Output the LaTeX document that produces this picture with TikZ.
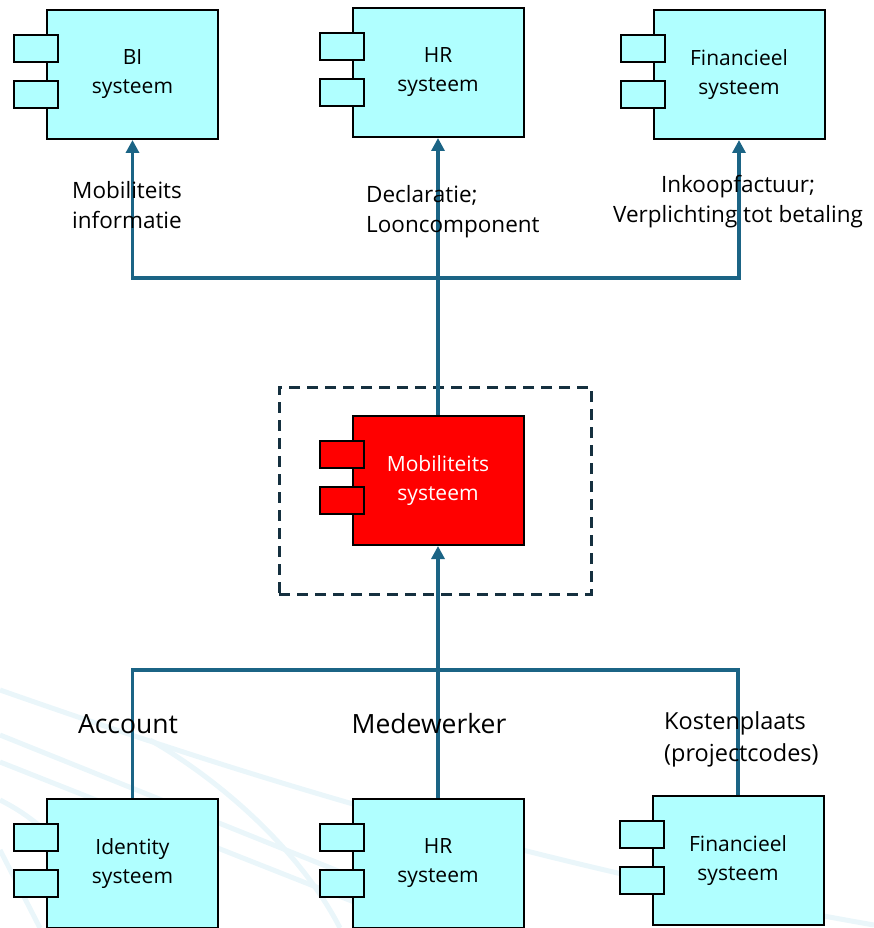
\documentclass[tikz,border=0pt]{standalone}
\usepackage{fontspec}
\setmainfont{Open Sans}
\usetikzlibrary{arrows.meta,positioning}

\definecolor{compcyan}{HTML}{B0FFFF}
\definecolor{flowblue}{HTML}{1B6485}
\definecolor{framedark}{HTML}{15303F}
\definecolor{markfaint}{HTML}{EAF6FA}

\tikzset{
  comp/.style={draw=black, line width=2pt, fill=compcyan, minimum width=171pt,
    minimum height=129pt, inner sep=0pt, align=center,
    font=\fontsize{21}{29}\selectfont},
  tab/.style={draw=black, line width=2pt, fill=compcyan},
  flow/.style={draw=flowblue, line width=3.2pt},
  flowarrow/.style={flow, -{Triangle[width=13pt,length=13pt]}},
  flowtext/.style={inner sep=0pt, font=\fontsize{22.5}{30}\selectfont},
  frame/.style={draw=framedark, line width=3pt, dash pattern=on 11pt off 7pt,
    minimum width=312pt, minimum height=207pt},
}

% the two little tabs on the left side of a component
\newcommand{\comptabs}[2]{%
  \draw[tab, fill=#2] ([xshift=-32pt,yshift=-26pt]#1.north west) rectangle ++(44pt,-27pt);
  \draw[tab, fill=#2] ([xshift=-32pt,yshift=-72pt]#1.north west) rectangle ++(44pt,-27pt);
}

\begin{document}
\begin{tikzpicture}[x=1pt, y=-1pt]
\useasboundingbox (0,0) rectangle (874,928);

% faint background lines
\begin{scope}[markfaint, line width=5pt]
\draw (0,735) -- (480,928);
\draw (0,762) -- (420,928);
\draw (0,690) .. controls (200,760) and (500,860) .. (874,925);
\draw (0,800) .. controls (60,830) and (90,880) .. (110,928);
\draw (0,850) -- (40,928);
\draw (150,740) .. controls (220,780) and (300,850) .. (340,928);
\end{scope}

% components
\node[comp] (bi) at (132.5,74.5) {BI\\systeem};
\node[comp] (hrtop) at (438,72.5) {HR\\systeem};
\node[comp] (fintop) at (739,74.5) {Financieel\\systeem};
\node[frame] (mobframe) at (435,490.5) {};
\node[comp, fill=red, text=white] (mob) at (438,480.5) {Mobiliteits\\systeem};
\node[comp] (ident) at (132.5,863.5) {Identity\\systeem};
\node[comp] (hrbot) at (438,863.5) {HR\\systeem};
\node[comp] (finbot) at (738,860.5) {Financieel\\systeem};

\comptabs{bi}{compcyan}
\comptabs{hrtop}{compcyan}
\comptabs{fintop}{compcyan}
\comptabs{mob}{red}
\comptabs{ident}{compcyan}
\comptabs{hrbot}{compcyan}
\comptabs{finbot}{compcyan}

% outgoing flows
\coordinate (topfork) at (438,278);
\draw[flow] (mob.north) -- (topfork);
\draw[flowarrow] (topfork) -| (bi.south);
\draw[flowarrow] (topfork) -- (hrtop.south);
\draw[flowarrow] (topfork) -| (fintop.south);

% incoming flows
\coordinate (botfork) at (438,670);
\draw[flow] (ident.north) |- (botfork) -| (finbot.north);
\draw[flow] (hrbot.north) -- (botfork);
\draw[flowarrow] (botfork) -- (mob.south);

% flow labels
\node[flowtext, align=left, anchor=west] (infolbl) at (72,205) {Mobiliteits\\informatie};
\node[flowtext, align=left, anchor=west] (declbl) at (366,212) {Declaratie;\\Looncomponent};
\node[flowtext, align=center] (inklbl) at (738,202) {Inkoopfactuur;\\Verplichting tot betaling};
\node[flowtext, font=\fontsize{26.5}{30}\selectfont] (acclbl) at (128,724) {Account};
\node[flowtext, font=\fontsize{26.5}{30}\selectfont] (medlbl) at (429,724) {Medewerker};
\node[flowtext, align=left, anchor=west, font=\fontsize{23.5}{32}\selectfont] (kostlbl) at (664,739) {Kostenplaats\\(projectcodes)};
\end{tikzpicture}
\end{document}
